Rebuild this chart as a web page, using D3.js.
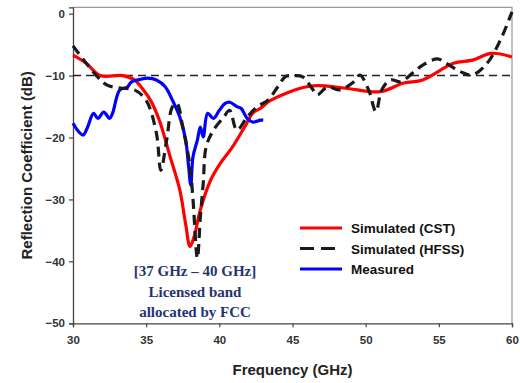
<!DOCTYPE html>
<html>
<head>
<meta charset="utf-8">
<script src="https://cdn.jsdelivr.net/npm/d3@7"></script>
<style>
  body { margin: 0; background: #fff; }
  text { font-family: 'Liberation Sans', Arial, sans-serif; }
</style>
</head>
<body>
<svg id="chart" width="520" height="383"></svg>
<script>
// Frequency (GHz) / reflection coefficient (dB)
const cstFreq = [30, 30.9, 31.85, 33.4, 34.2, 34.8, 35.3, 35.9, 36.6, 37.3, 37.7, 38.0, 38.3, 38.7, 39.4, 40.0, 40.9, 41.8, 42.3, 42.8, 43.5, 46.2, 48.5, 51.0, 52.6, 53.9, 56.0, 57.3, 58.6, 60]
const cstDb = [-6.7, -8.0, -10, -10, -10.7, -12.3, -14, -17.2, -22.8, -28.5, -34, -37.6, -35.8, -31.7, -26.9, -24.4, -21.5, -18, -16, -15.3, -14, -11.7, -12, -12.6, -11.2, -10.7, -8, -7.5, -6.4, -7]

const hfssFreq = [30, 31.6, 32.3, 33.2, 34.2, 35.0, 35.7, 36.0, 36.4, 36.8, 37.1, 37.5, 38.0, 38.2, 38.5, 38.7, 38.9, 39.1, 39.6, 40.3, 40.7, 41.2, 41.9, 42.6, 43.3, 44.0, 44.5, 45.1, 45.7, 46.4, 46.7, 47.4, 48.2, 49.2, 49.6, 50.2, 50.7, 51.1, 51.7, 52.4, 53.2, 53.9, 54.9, 55.5, 56.5, 57.3, 58.3, 59.2, 60]
const hfssDb = [-5.2, -10, -11.5, -12, -12.3, -14, -19.3, -25.3, -20.4, -15, -14.5, -18.3, -24.7, -30, -39.5, -32.9, -27.4, -21.5, -18.8, -16.7, -15.6, -18.8, -16.7, -15, -14, -11.8, -10.2, -10, -10.2, -12.3, -13.1, -11.8, -12.3, -11, -9.9, -12.3, -15.8, -12.3, -10.7, -11, -9.6, -8.3, -7.3, -8, -9.4, -9.9, -8, -4.3, 0.3]

const measFreq = [30, 30.4, 30.7, 31.0, 31.4, 31.7, 32.1, 32.5, 32.7, 33.2, 33.7, 34.0, 34.6, 35.1, 35.7, 36.3, 36.8, 37.3, 37.7, 37.9, 38.05, 38.2, 38.5, 38.7, 38.9, 39.2, 39.6, 40.0, 40.4, 40.7, 41.2, 41.5, 41.9, 42.3, 42.8, 43.0]
const measDb = [-17.7, -19.1, -19.6, -18.3, -16.1, -16.9, -15.9, -16.9, -16.1, -12.3, -11.9, -11, -10.6, -10.4, -10.7, -11.8, -14, -16.7, -20.4, -24.7, -27.7, -23.1, -20.4, -18.3, -19.9, -16.1, -16.9, -15.6, -14.5, -14.3, -15, -15.3, -16.9, -17.5, -17.2, -17.2]

const xTicks = [30, 35, 40, 45, 50, 55, 60]
const yTicks = [0, -10, -20, -30, -40, -50]
const thresholdDb = -10

const series = [
  { name: 'Simulated (CST)', freq: cstFreq, db: cstDb, color: '#ff0000', dash: null },
  { name: 'Simulated (HFSS)', freq: hfssFreq, db: hfssDb, color: '#1a1a1a', dash: '10,6' },
  { name: 'Measured', freq: measFreq, db: measDb, color: '#0000ff', dash: null }
]
const noteLines = ['[37 GHz \u2013 40 GHz]', 'Licensed band', 'allocated by FCC']

const svg = d3.select('#chart')
const plotL = 73, plotR = 512, plotT = 7.3, plotB = 323.3

const x = d3.scaleLinear().domain([30, 60]).range([plotL, plotR])
const y = d3.scaleLinear().domain([-50, 1.03]).range([plotB, plotT])

// plot frame (top and right in light grey)
svg.append('path')
  .attr('d', `M${plotL},${plotT}H${plotR}V${plotB}`)
  .attr('fill', 'none')
  .attr('stroke', '#999')
  .attr('stroke-width', 1.2)

// axes
const xAxis = svg.append('g')
  .attr('transform', `translate(0,${plotB})`)
  .call(d3.axisBottom(x).tickValues(xTicks).tickSize(4).tickPadding(9))
const yAxis = svg.append('g')
  .attr('transform', `translate(${plotL},0)`)
  .call(d3.axisLeft(y).tickValues(yTicks).tickSize(4).tickPadding(4))

;[xAxis, yAxis].forEach(g => {
  g.select('.domain').attr('stroke', '#444').attr('stroke-width', 1.3)
  g.selectAll('.tick line').attr('stroke', '#444').attr('stroke-width', 1.2)
  g.selectAll('.tick text')
    .attr('fill', '#333')
    .style('font-size', '11.5px')
    .style('font-weight', 'bold')
    .style('font-family', "'Liberation Sans', Arial, sans-serif")
})

// -10 dB reference line
svg.append('line')
  .attr('x1', plotL).attr('x2', plotR)
  .attr('y1', y(thresholdDb)).attr('y2', y(thresholdDb))
  .attr('stroke', '#222')
  .attr('stroke-width', 1.5)
  .attr('stroke-dasharray', '8,5')

// curves
const line = d3.line()
  .x(d => x(d[0]))
  .y(d => y(d[1]))
  .curve(d3.curveCatmullRom.alpha(0.5))

const drawOrder = [series[0], series[2], series[1]]
drawOrder.forEach(s => {
  svg.append('path')
    .datum(s.freq.map((f, i) => [f, s.db[i]]))
    .attr('d', line)
    .attr('fill', 'none')
    .attr('stroke', s.color)
    .attr('stroke-width', 3.2)
    .attr('stroke-linejoin', 'round')
    .attr('stroke-dasharray', s.dash)
})

// legend
const legend = svg.append('g').attr('transform', 'translate(300,228)')
series.forEach((s, i) => {
  const row = legend.append('g').attr('transform', `translate(0,${i * 20.5})`)
  row.append('line')
    .attr('x1', 0).attr('x2', 42)
    .attr('stroke', s.color)
    .attr('stroke-width', 3.2)
    .attr('stroke-dasharray', s.dash ? '14,7' : null)
  row.append('text')
    .attr('x', 51).attr('y', 5)
    .attr('fill', '#111')
    .style('font-size', '13.5px')
    .style('font-weight', 'bold')
    .text(s.name)
})

// annotation
svg.append('g')
  .selectAll('text')
  .data(noteLines)
  .join('text')
  .attr('x', 195)
  .attr('y', (d, i) => 276 + i * 20.7)
  .attr('text-anchor', 'middle')
  .attr('fill', '#1f3470')
  .style('font-family', "'Liberation Serif', 'Times New Roman', serif")
  .style('font-size', '15px')
  .style('font-weight', 'bold')
  .text(d => d)

// axis titles
svg.append('text')
  .attr('x', (plotL + plotR) / 2)
  .attr('y', 375)
  .attr('text-anchor', 'middle')
  .attr('fill', '#222')
  .style('font-size', '15px')
  .style('font-weight', 'bold')
  .text('Frequency (GHz)')

svg.append('text')
  .attr('transform', `translate(32,${(plotT + plotB) / 2}) rotate(-90)`)
  .attr('text-anchor', 'middle')
  .attr('fill', '#222')
  .style('font-size', '15px')
  .style('font-weight', 'bold')
  .text('Reflection Coefficient (dB)')
</script>
</body>
</html>
